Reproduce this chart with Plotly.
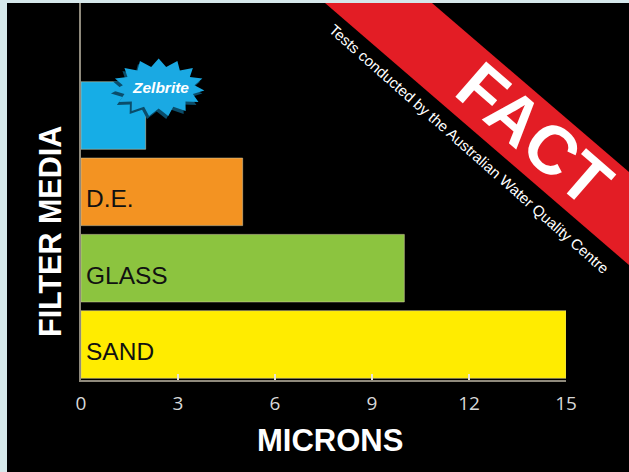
import math
import plotly.graph_objects as go

# ---- data ----
media = ["Zelbrite", "D.E.", "GLASS", "SAND"]
microns = [2, 5, 10, 15]
colors = ["#16ade6", "#f39322", "#8cc43f", "#ffec00"]
x_ticks = [0, 3, 6, 9, 12, 15]
x_title = "MICRONS"
y_title = "FILTER MEDIA"
banner = "FACT"
note = "Tests conducted by the Australian Water Quality Centre"
brand = "Zelbrite"

# ---- layout geometry helpers (pixel -> paper) ----
W, H = 629, 472
L, R, T, B = 81, 566, 3, 380


def px(xp):
    return (xp - L) / (R - L)


def py(yp):
    return (B - yp) / (B - T)


order = media[::-1]  # bottom to top

fig = go.Figure(
    go.Bar(
        x=microns,
        y=media,
        orientation="h",
        width=0.885,
        marker=dict(color=colors, line=dict(color="rgba(210,200,160,0.55)", width=1)),
        hoverinfo="skip",
        showlegend=False,
    )
)

shapes = []
# black panel over the water-coloured paper
shapes.append(dict(type="rect", xref="paper", yref="paper", x0=px(7), x1=px(W), y0=py(3), y1=py(H),
                   fillcolor="#000000", line=dict(width=0), layer="below"))
# red diagonal banner
band = [(325, 3), (432, 3), (W, 172), (W, 265)]
path = "M " + " L ".join(f"{px(a):.4f},{py(b):.4f}" for a, b in band) + " Z"
shapes.append(dict(type="path", xref="paper", yref="paper", path=path,
                   fillcolor="#e31d25", line=dict(width=0), layer="below"))


def star_path(n, rxo, ryo, rxi, ryi, dx=0.0, dy=0.0):
    pts = []
    for k in range(2 * n):
        a = math.pi * k / n + math.pi / 2
        rx, ry = (rxo, ryo) if k % 2 == 0 else (rxi, ryi)
        pts.append((dx + rx * math.cos(a), dy + ry * math.sin(a)))
    return "M " + " L ".join(f"{x:.1f},{y:.1f}" for x, y in pts) + " Z"


zi = order.index(brand)
zval = microns[media.index(brand)]
for col, ddx, ddy in [("#0a4d6b", -2, -3), ("#1aa9e3", 0, 0)]:
    shapes.append(dict(type="path", xref="x", yref="y", xsizemode="pixel", ysizemode="pixel",
                       xanchor=zval, yanchor=zi,
                       path=star_path(15, 46, 29, 36, 21, 13 + ddx, 28 + ddy),
                       fillcolor=col, line=dict(width=0), layer="above"))

annotations = []
# labels inside bars
for name, val in zip(media, microns):
    if name == brand:
        continue
    annotations.append(dict(x=0, y=name, xref="x", yref="y", text=name, showarrow=False,
                            xanchor="left", yanchor="middle", xshift=3, yshift=-7,
                            font=dict(family="Liberation Sans, Arial", size=24.5, color="#111111")))
# brand text in starburst
annotations.append(dict(x=zval, y=zi, xref="x", yref="y", text="<i>" + brand + "</i>", showarrow=False,
                        xanchor="center", yanchor="middle", xshift=15, yshift=28,
                        font=dict(family="Liberation Sans, Arial", size=15.5, color="white", weight="bold")))
# axis titles
annotations.append(dict(x=px(330), y=py(440), xref="paper", yref="paper", text=x_title, showarrow=False,
                        xanchor="center", yanchor="middle",
                        font=dict(family="Liberation Sans, Arial", size=31, color="white", weight="bold")))
annotations.append(dict(x=px(50), y=py(232), xref="paper", yref="paper", text=y_title, showarrow=False,
                        xanchor="center", yanchor="middle", textangle=-90,
                        font=dict(family="Liberation Sans, Arial", size=30.5, color="white", weight="bold")))
# banner texts
annotations.append(dict(x=px(535), y=py(134), xref="paper", yref="paper", text=banner, showarrow=False,
                        xanchor="center", yanchor="middle", textangle=41,
                        font=dict(family="Liberation Sans, Arial", size=68, color="white", weight="bold")))
annotations.append(dict(x=px(469), y=py(148), xref="paper", yref="paper", text=note, showarrow=False,
                        xanchor="center", yanchor="middle", textangle=41.5,
                        font=dict(family="Liberation Sans, Arial", size=15, color="white")))

fig.update_layout(
    width=W, height=H,
    margin=dict(l=L, r=W - R, t=T, b=H - B, pad=0),
    paper_bgcolor="#d6e8eb",
    plot_bgcolor="rgba(0,0,0,0)",
    shapes=shapes,
    annotations=annotations,
    xaxis=dict(range=[0, 15], tickvals=x_ticks, ticktext=[str(t) for t in x_ticks],
               ticks="inside", ticklen=6, tickwidth=1.5, tickcolor="#e8e4d4",
               showline=True, linecolor="#8f8a7c", linewidth=2, showgrid=False, zeroline=False,
               tickfont=dict(family="Open Sans", size=19, color="#d8d8d8"), ticklabelstandoff=5,
               fixedrange=True),
    yaxis=dict(type="category", categoryorder="array", categoryarray=order,
               range=[-0.465, 4.474], showticklabels=False, ticks="",
               showline=True, linecolor="#8f8a7c", linewidth=2, showgrid=False, zeroline=False,
               fixedrange=True),
    bargap=0.115,
)

fig.write_html("out.html", config=dict(displayModeBar=False),
               post_script="document.body.style.margin='0';document.body.style.overflow='hidden';")
